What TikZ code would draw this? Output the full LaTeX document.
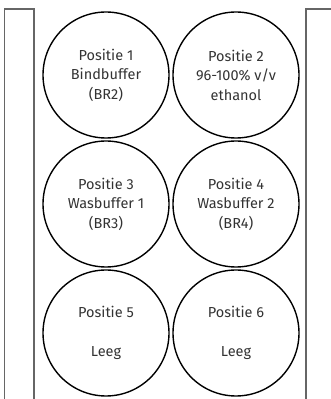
\documentclass[tikz,border=0pt]{standalone}
\usepackage{fontspec}
\setmainfont{Fira Sans}
\begin{document}
\begin{tikzpicture}[x=1pt,y=1pt,
  buis/.style={circle,draw=black,line width=1.4pt,minimum size=126pt,inner sep=0pt,
    align=center,text=black!80,font=\fontsize{14.5}{19.5}\selectfont},
  rek/.style={draw=black!60,line width=1.5pt}]
\useasboundingbox (0,0) rectangle (331,399);
\draw[rek](4.5,0)--(4.5,390)--(34,390)--(34,0);
\draw[rek](306,0)--(306,390)--(332,390);
\node[buis] (p1) at (106,324) {Positie 1\\Bindbuffer\\(BR2)};
\node[buis] (p2) at (236,324) {Positie 2\\96-100\% v/v\\ethanol};
\node[buis] (p3) at (106,195) {Positie 3\\Wasbuffer 1\\(BR3)};
\node[buis] (p4) at (236,195) {Positie 4\\Wasbuffer 2\\(BR4)};
\node[buis] (p5) at (106,66) {Positie 5\\\strut\\Leeg};
\node[buis] (p6) at (236,66) {Positie 6\\\strut\\Leeg};
\end{tikzpicture}
\end{document}
